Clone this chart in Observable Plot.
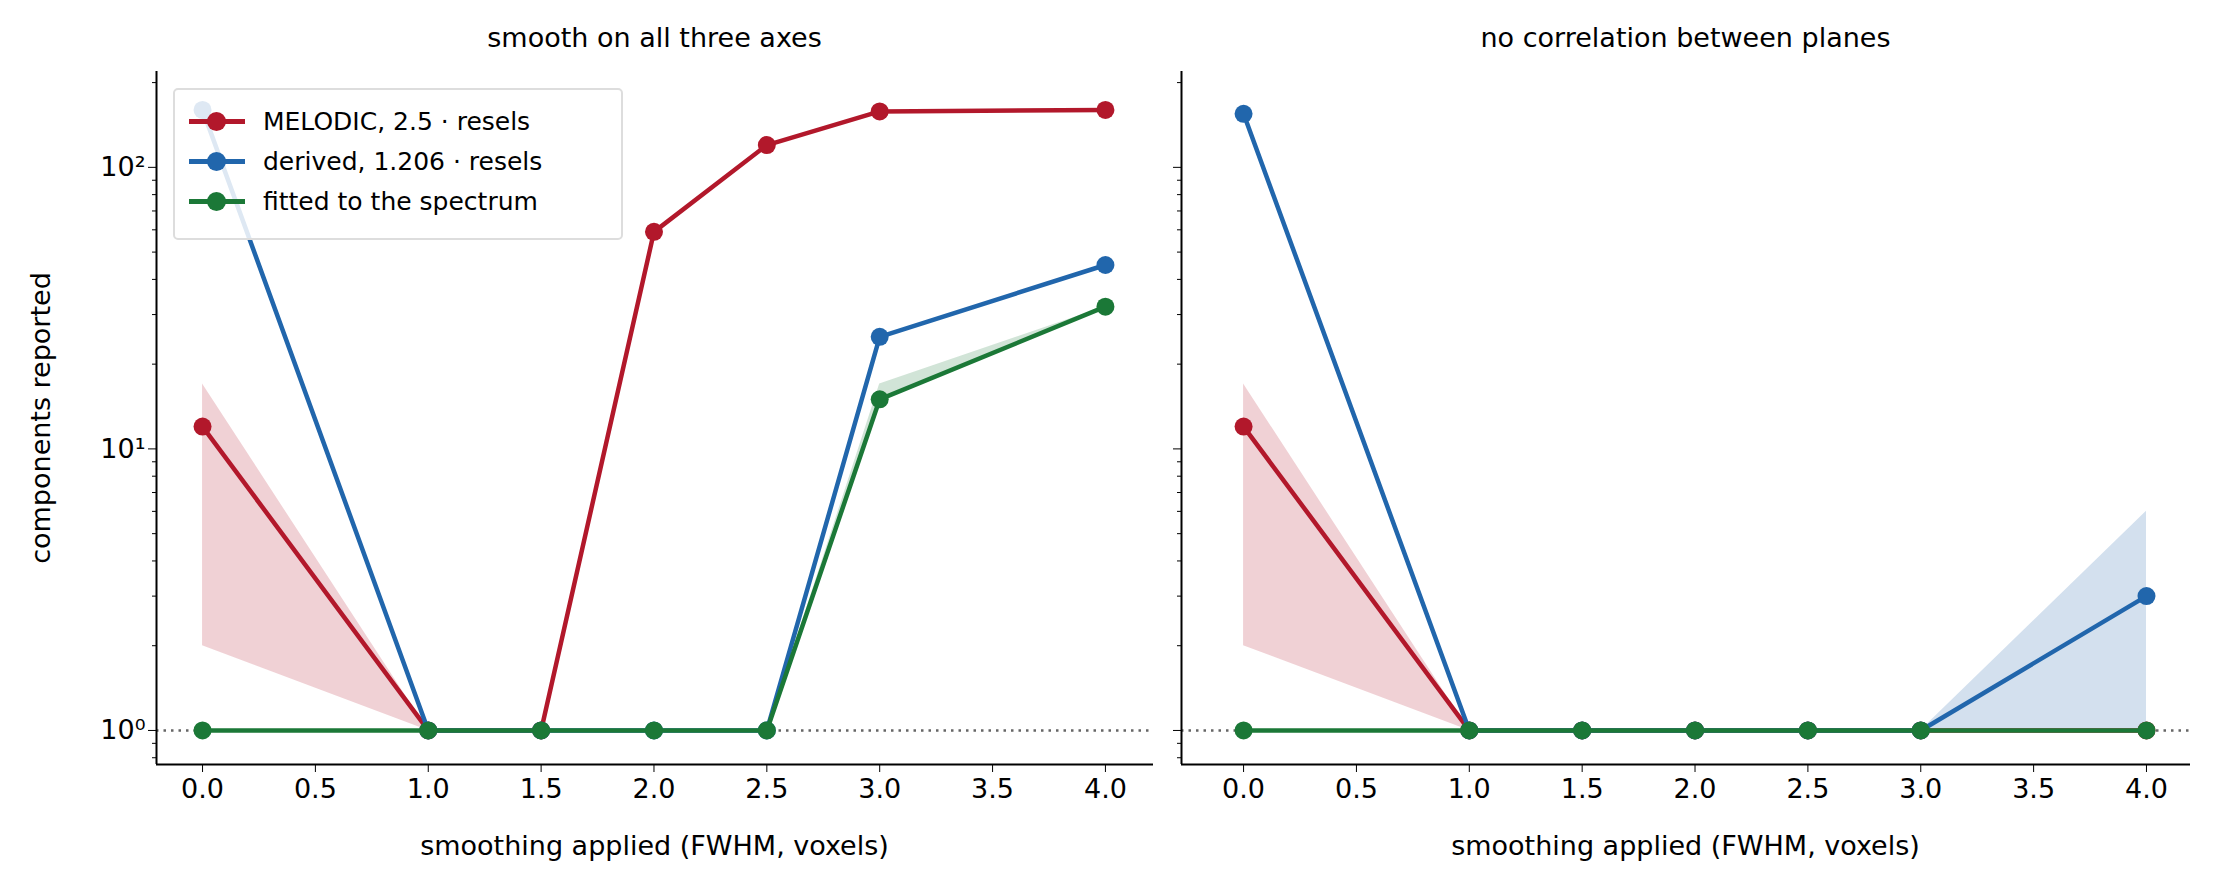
<!DOCTYPE html>
<html><head><meta charset="utf-8">
<script src="https://cdn.jsdelivr.net/npm/d3@7"></script>
<script src="https://cdn.jsdelivr.net/npm/@observablehq/plot@0.6"></script>
<style>
body{margin:0;background:#fff;font-family:"DejaVu Sans",sans-serif;}
#wrap{position:relative;width:2218px;height:892px;}
.p{position:absolute;top:0;}
.t{position:absolute;font-size:27px;color:#000;white-space:nowrap;}
#legend{position:absolute;left:173px;top:88px;width:446px;height:148px;border:2px solid #ddd;border-radius:5px;background:rgba(255,255,255,0.85);font-size:25px;}
.li{position:absolute;left:14px;height:30px;display:flex;align-items:center;}
.sw{position:relative;width:56px;height:5px;margin-right:18px;}
.sw i{position:absolute;left:18px;top:-7px;width:19px;height:19px;border-radius:10px;}
</style></head><body>
<div id="wrap"></div>
<script>
const xs = [0, 1, 1.5, 2, 2.5, 3, 4];
const seriesNames = ["MELODIC, 2.5 · resels", "derived, 1.206 · resels", "fitted to the spectrum"];
const colors = ["#b2182b", "#2166ac", "#1b7837"];
const titles = ["smooth on all three axes", "no correlation between planes"];
// panel A
const melodicA = [12, 1, 1, 59, 120, 158, 160];
const melodicA_lo = [2, 1, 1, 59, 120, 158, 160];
const melodicA_hi = [17, 1, 1, 59, 120, 158, 160];
const derivedA = [160, 1, 1, 1, 1, 25, 45];
const derivedA_lo = [160, 1, 1, 1, 1, 25, 45];
const derivedA_hi = [160, 1, 1, 1, 1, 25, 45];
const fittedA = [1, 1, 1, 1, 1, 15, 32];
const fittedA_lo = [1, 1, 1, 1, 1, 15, 32];
const fittedA_hi = [1, 1, 1, 1, 1, 17, 32];
// panel B
const melodicB = [12, 1, 1, 1, 1, 1, 1];
const melodicB_lo = [2, 1, 1, 1, 1, 1, 1];
const melodicB_hi = [17, 1, 1, 1, 1, 1, 1];
const derivedB = [155, 1, 1, 1, 1, 1, 3];
const derivedB_lo = [155, 1, 1, 1, 1, 1, 1];
const derivedB_hi = [155, 1, 1, 1, 1, 1, 6];
const fittedB = [1, 1, 1, 1, 1, 1, 1];
const fittedB_lo = [1, 1, 1, 1, 1, 1, 1];
const fittedB_hi = [1, 1, 1, 1, 1, 1, 1];
const xTicks = [0, 0.5, 1, 1.5, 2, 2.5, 3, 3.5, 4];
const yMajor = [1, 10, 100];
const yMajorLabels = ["10⁰", "10¹", "10²"];
const yMinor = [0.8, 0.9, 2, 3, 4, 5, 6, 7, 8, 9, 20, 30, 40, 50, 60, 70, 80, 90, 200];

function rows(vals, lo, hi, s) { return xs.map((x, i) => ({x, y: vals[i], lo: lo[i], hi: hi[i], s})); }
const panels = [
  [rows(melodicA, melodicA_lo, melodicA_hi, 0), rows(derivedA, derivedA_lo, derivedA_hi, 1), rows(fittedA, fittedA_lo, fittedA_hi, 2)],
  [rows(melodicB, melodicB_lo, melodicB_hi, 0), rows(derivedB, derivedB_lo, derivedB_hi, 1), rows(fittedB, fittedB_lo, fittedB_hi, 2)]
];
const yDom = [0.757, 219];
const cfg = [
  {left: 0, width: 1165, ml: 156, mr: 12, xd: [-0.204, 4.213], labels: true},
  {left: 1165, width: 1053, ml: 16, mr: 28, xd: [-0.275, 4.195], labels: false}
];
const wrap = document.getElementById("wrap");
cfg.forEach((c, k) => {
  const marks = [];
  panels[k].forEach(d => marks.push(Plot.areaY(d, {x: "x", y1: "lo", y2: "hi", fill: colors[d[0].s], fillOpacity: 0.2, curve: "linear"})));
  marks.push(Plot.ruleY([1], {stroke: "#666", strokeWidth: 2.5, strokeDasharray: "2.5,5"}));
  panels[k].forEach(d => {
    marks.push(Plot.line(d, {x: "x", y: "y", stroke: colors[d[0].s], strokeWidth: 4.5}));
    marks.push(Plot.dot(d, {x: "x", y: "y", fill: colors[d[0].s], r: 9}));
  });
  marks.push(Plot.ruleX([c.xd[0]], {stroke: "#000", strokeWidth: 2}));
  marks.push(Plot.ruleY([yDom[0]], {stroke: "#000", strokeWidth: 2}));
  marks.push(Plot.axisX(xTicks, {tickSize: 8, tickFormat: d => d.toFixed(1), fontSize: 27, tickPadding: 6, label: null}));
  marks.push(Plot.axisY(yMajor, {tickSize: 8, tickFormat: (d) => c.labels ? yMajorLabels[yMajor.indexOf(d)] : "", fontSize: 27, label: null}));
  marks.push(Plot.axisY(yMinor, {tickSize: 4, tickFormat: () => "", label: null}));
  const svg = Plot.plot({
    width: c.width, height: 892, marginLeft: c.ml, marginRight: c.mr, marginTop: 71, marginBottom: 128,
    x: {domain: c.xd}, y: {type: "log", domain: yDom},
    style: {fontFamily: "DejaVu Sans", fontSize: "27px", color: "#000", background: "transparent"},
    marks
  });
  svg.classList.add("p");
  svg.style.left = c.left + "px";
  wrap.appendChild(svg);
  const frameL = c.left + c.ml, frameR = c.left + c.width - c.mr;
  const t = document.createElement("div");
  t.className = "t"; t.textContent = titles[k];
  t.style.top = "22px"; t.style.left = ((frameL + frameR) / 2) + "px"; t.style.transform = "translateX(-50%)";
  wrap.appendChild(t);
  const xl = document.createElement("div");
  xl.className = "t"; xl.textContent = "smoothing applied (FWHM, voxels)";
  xl.style.top = "830px"; xl.style.left = ((frameL + frameR) / 2) + "px"; xl.style.transform = "translateX(-50%)";
  wrap.appendChild(xl);
});
const yl = document.createElement("div");
yl.className = "t"; yl.textContent = "components reported";
yl.style.left = "40px"; yl.style.top = "418px"; yl.style.transform = "translate(-50%,-50%) rotate(-90deg)";
wrap.appendChild(yl);
const lg = document.createElement("div"); lg.id = "legend";
seriesNames.forEach((n, i) => {
  const it = document.createElement("div"); it.className = "li"; it.style.top = (16 + i * 40) + "px";
  it.innerHTML = `<span class="sw" style="background:${colors[i]}"><i style="background:${colors[i]}"></i></span><span>${n}</span>`;
  lg.appendChild(it);
});
wrap.appendChild(lg);
</script></body></html>
